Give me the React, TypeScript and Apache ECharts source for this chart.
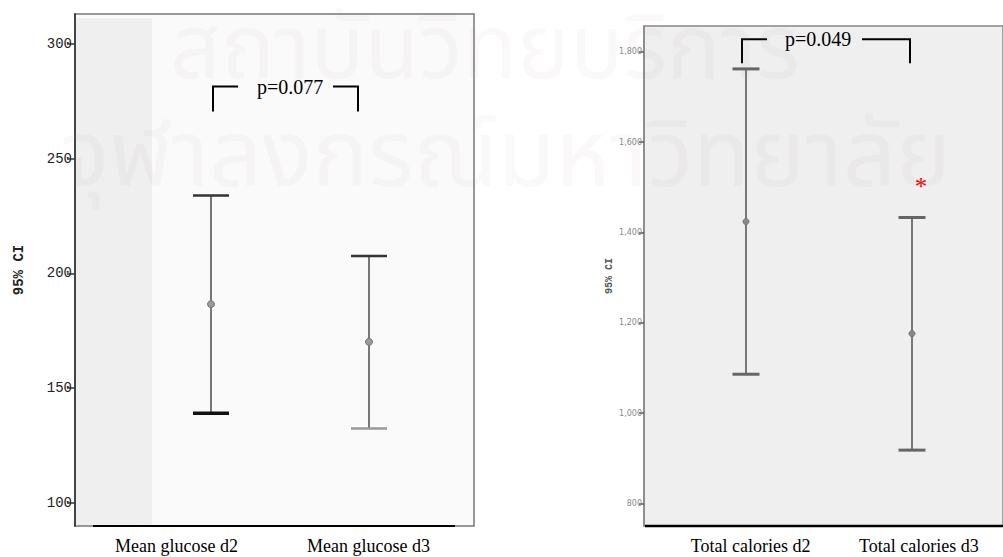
import React, { useEffect, useRef } from "react";
import * as echarts from "echarts";

// Mean blood glucose (95% CI), day 2 vs day 3
const glucoseCategories = ["Mean glucose d2", "Mean glucose d3"];
const glucoseMean = [186.6, 170.2];
const glucoseLower = [139.1, 132.5];
const glucoseUpper = [233.9, 207.6];
const glucoseTicks = [100, 150, 200, 250, 300];
const glucoseP = "p=0.077";
const glucoseBracket = [281.4, 270.5];

// Total calories (95% CI), day 2 vs day 3
const calorieCategories = ["Total calories d2", "Total calories d3"];
const calorieMean = [1424, 1176];
const calorieLower = [1086, 918];
const calorieUpper = [1762, 1433];
const calorieTicks = [800, 1000, 1200, 1400, 1600, 1800];
const calorieP = "p=0.049";
const calorieBracket = [1827.5, 1774.3];
const calorieFlags = ["", "*"];

// Library watermark text
const watermarkLines = ["สถาบันวิทยบริการ", "จุฬาลงกรณ์มหาวิทยาลัย"];

const SERIF = "'Liberation Serif', 'Times New Roman', serif";
const MONO = "'Liberation Mono', 'Courier New', monospace";
const THAI = "'Noto Sans Thai', 'Noto Sans', sans-serif";

type BarStyle = {
  capHalf: number;
  stemColor: string;
  upperColor: string[];
  lowerColor: string[];
  upperWidth: number[];
  lowerWidth: number[];
  dotR: number;
  dotColor: string;
};

function errorBars(
  axis: number,
  mean: number[],
  lower: number[],
  upper: number[],
  flags: string[],
  s: BarStyle
) {
  return {
    type: "custom",
    xAxisIndex: axis,
    yAxisIndex: axis,
    silent: true,
    data: mean.map((m, i) => [i, lower[i], upper[i], m]),
    encode: { x: 0, y: [1, 2, 3] },
    renderItem: (params: any, api: any) => {
      const i = api.value(0);
      const lo = api.coord([i, api.value(1)]);
      const hi = api.coord([i, api.value(2)]);
      const mid = api.coord([i, api.value(3)]);
      const x = lo[0];
      const children: any[] = [
        {
          type: "line",
          shape: { x1: x, y1: lo[1], x2: x, y2: hi[1] },
          style: { stroke: s.stemColor, lineWidth: 2 },
        },
        {
          type: "line",
          shape: { x1: x - s.capHalf, y1: hi[1], x2: x + s.capHalf, y2: hi[1] },
          style: { stroke: s.upperColor[i], lineWidth: s.upperWidth[i] },
        },
        {
          type: "line",
          shape: { x1: x - s.capHalf, y1: lo[1], x2: x + s.capHalf, y2: lo[1] },
          style: { stroke: s.lowerColor[i], lineWidth: s.lowerWidth[i] },
        },
        {
          type: "circle",
          shape: { cx: x, cy: mid[1], r: s.dotR },
          style: { fill: s.dotColor, stroke: "#777", lineWidth: 1 },
        },
      ];
      if (flags[i]) {
        children.push({
          type: "text",
          x: x + 9,
          y: hi[1] - 31,
          style: {
            text: flags[i],
            fill: "#ff0000",
            fontSize: 25,
            fontFamily: SERIF,
            align: "center",
            verticalAlign: "middle",
          },
        });
      }
      return { type: "group", children };
    },
  };
}

type BracketStyle = {
  leftDx: number;
  rightDx: number;
  armLeft: number;
  armRight: number;
  textGap: number;
};

function bracket(axis: number, levels: number[], label: string, s: BracketStyle) {
  return {
    type: "custom",
    xAxisIndex: axis,
    yAxisIndex: axis,
    silent: true,
    data: [[0, 1, levels[0], levels[1]]],
    encode: { x: [0, 1], y: [2, 3] },
    renderItem: (params: any, api: any) => {
      const a = api.coord([api.value(0), api.value(2)]);
      const b = api.coord([api.value(1), api.value(3)]);
      const xl = a[0] + s.leftDx;
      const xr = b[0] + s.rightDx;
      const yTop = a[1];
      const yBot = b[1];
      const line = { stroke: "#000", lineWidth: 2, fill: null };
      return {
        type: "group",
        children: [
          {
            type: "polyline",
            shape: { points: [[xl, yBot], [xl, yTop], [xl + s.armLeft, yTop]] },
            style: line,
          },
          {
            type: "polyline",
            shape: { points: [[xr - s.armRight, yTop], [xr, yTop], [xr, yBot]] },
            style: line,
          },
          {
            type: "text",
            x: xl + s.armLeft + s.textGap,
            y: yTop,
            style: {
              text: label,
              fill: "#000",
              fontSize: 20,
              fontFamily: SERIF,
              align: "left",
              verticalAlign: "middle",
            },
          },
        ],
      };
    },
  };
}

const hiddenY = (gridIndex: number, min: number, max: number) => ({
  gridIndex,
  type: "value",
  show: false,
  min,
  max,
});

const hiddenX = (gridIndex: number, data: string[]) => ({
  gridIndex,
  type: "category",
  show: false,
  data,
});

const labelX = (gridIndex: number, data: string[]) => ({
  gridIndex,
  type: "category",
  data,
  axisLine: { show: false },
  axisTick: { show: false },
  axisLabel: { fontFamily: SERIF, fontSize: 18, color: "#000", margin: 11 },
});

const G_MIN = 90;
const G_MAX = 313;
const C_MIN = 750;
const C_MAX = 1857;

const option: any = {
  animation: false,
  backgroundColor: "#ffffff",
  grid: [
    // glucose panel: frame, shaded strip, data, labels
    { left: 75, top: 14, width: 399, height: 512, show: true, backgroundColor: "#fafafa", borderColor: "#777", borderWidth: 1.5 },
    { left: 76, top: 18, width: 76, height: 507, show: true, backgroundColor: "#efefef", borderWidth: 0 },
    { left: 132, top: 14, width: 316, height: 512 },
    { left: 80.5, top: 14, width: 384, height: 512 },
    // calorie panel: frame, data, labels
    { left: 644, top: 26, width: 420, height: 500, show: true, backgroundColor: "#efefef", borderColor: "#888", borderWidth: 1.5 },
    { left: 663, top: 26, width: 332, height: 500 },
    { left: 666.5, top: 26, width: 338, height: 500 },
  ],
  xAxis: [
    hiddenX(0, glucoseCategories),
    hiddenX(1, [""]),
    hiddenX(2, glucoseCategories),
    labelX(3, glucoseCategories),
    hiddenX(4, calorieCategories),
    hiddenX(5, calorieCategories),
    labelX(6, calorieCategories),
  ],
  yAxis: [
    {
      gridIndex: 0,
      type: "value",
      min: G_MIN,
      max: G_MAX,
      name: "95% CI",
      nameLocation: "middle",
      nameGap: 49,
      nameRotate: 90,
      nameTextStyle: { fontFamily: MONO, fontWeight: "bold", fontSize: 14, color: "#222" },
      axisLine: { show: true, lineStyle: { color: "#444", width: 2 } },
      axisTick: { show: true, length: 8, customValues: glucoseTicks, lineStyle: { color: "#333", width: 1.5 } },
      axisLabel: { customValues: glucoseTicks, fontFamily: MONO, fontSize: 14, color: "#222", margin: 3 },
      splitLine: { show: false },
    },
    hiddenY(1, G_MIN, G_MAX),
    hiddenY(2, G_MIN, G_MAX),
    hiddenY(3, G_MIN, G_MAX),
    {
      gridIndex: 4,
      type: "value",
      min: C_MIN,
      max: C_MAX,
      name: "95% CI",
      nameLocation: "middle",
      nameGap: 30,
      nameRotate: 90,
      nameTextStyle: { fontFamily: MONO, fontWeight: "bold", fontSize: 10, color: "#555" },
      axisLine: { show: true, lineStyle: { color: "#888", width: 1.5 } },
      axisTick: { show: true, length: 5, customValues: calorieTicks, lineStyle: { color: "#555", width: 1.5 } },
      axisLabel: {
        customValues: calorieTicks,
        fontFamily: "'DejaVu Sans', sans-serif",
        fontSize: 8,
        color: "#888",
        margin: 2,
        formatter: (v: number) => v.toLocaleString("en-US"),
      },
      splitLine: { show: false },
    },
    hiddenY(5, C_MIN, C_MAX),
    hiddenY(6, C_MIN, C_MAX),
  ],
  graphic: [
    {
      type: "text",
      x: 170,
      y: 6,
      silent: true,
      z: 100,
      style: {
        text: watermarkLines[0],
        fontSize: 89,
        fontFamily: THAI,
        fill: "rgba(170,140,140,0.06)",
      },
    },
    {
      type: "text",
      x: 60,
      y: 111,
      silent: true,
      z: 100,
      style: {
        text: watermarkLines[1],
        fontSize: 93,
        fontFamily: THAI,
        fill: "rgba(170,140,140,0.06)",
      },
    },
    { type: "line", silent: true, z: 10, shape: { x1: 93, y1: 526, x2: 455, y2: 526 }, style: { stroke: "#000", lineWidth: 2 } },
    { type: "line", silent: true, z: 10, shape: { x1: 645, y1: 526, x2: 1003, y2: 526 }, style: { stroke: "#000", lineWidth: 2.5 } },
  ],
  series: [
    errorBars(2, glucoseMean, glucoseLower, glucoseUpper, ["", ""], {
      capHalf: 18,
      stemColor: "#777",
      upperColor: ["#333", "#333"],
      lowerColor: ["#111", "#999"],
      upperWidth: [2.5, 2.5],
      lowerWidth: [3.5, 2.5],
      dotR: 3.5,
      dotColor: "#999",
    }),
    bracket(2, glucoseBracket, glucoseP, { leftDx: 2, rightDx: -11, armLeft: 25, armRight: 25, textGap: 19 }),
    errorBars(5, calorieMean, calorieLower, calorieUpper, calorieFlags, {
      capHalf: 13.5,
      stemColor: "#777",
      upperColor: ["#666", "#666"],
      lowerColor: ["#666", "#666"],
      upperWidth: [3, 3],
      lowerWidth: [3, 3],
      dotR: 3,
      dotColor: "#888",
    }),
    bracket(5, calorieBracket, calorieP, { leftDx: -4, rightDx: -2, armLeft: 25, armRight: 48, textGap: 18 }),
  ],
};

export default function App() {
  const ref = useRef<HTMLDivElement>(null);
  useEffect(() => {
    const chart = echarts.init(ref.current!, null, { renderer: "svg" });
    chart.setOption(option);
    return () => chart.dispose();
  }, []);
  return (
    <div
      ref={ref}
      style={{ position: "absolute", left: 0, top: 0, width: 1003, height: 557, background: "#fff" }}
    />
  );
}
